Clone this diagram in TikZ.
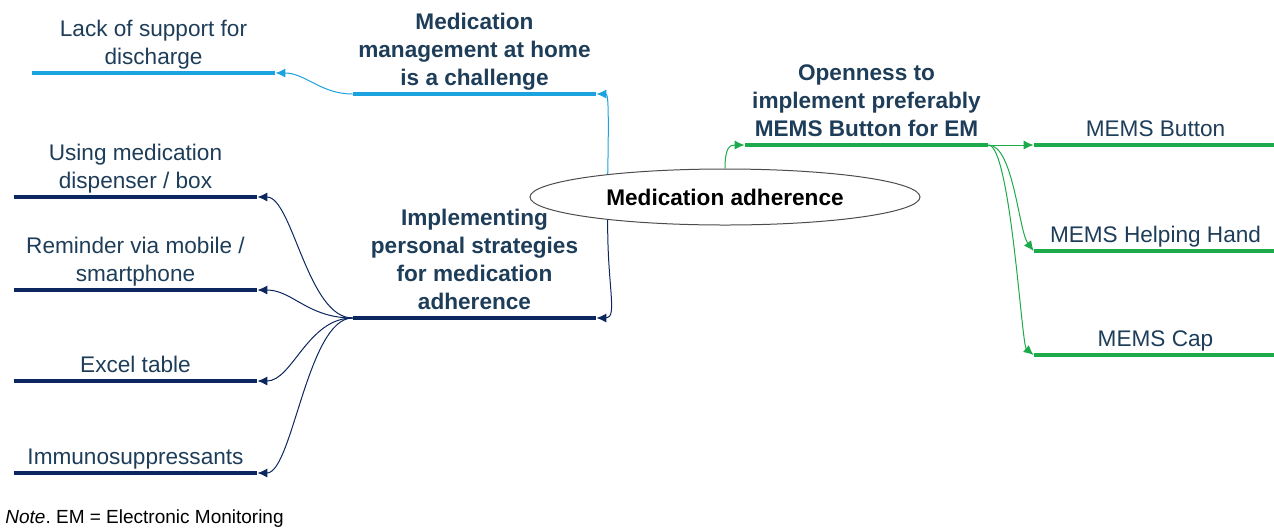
\documentclass[tikz,border=0pt]{standalone}
\usepackage{fontspec}
\setmainfont{Liberation Sans}
\usetikzlibrary{shapes.geometric,arrows.meta,positioning}
\definecolor{skyline}{HTML}{1AA3DF}
\definecolor{navyline}{HTML}{0C2660}
\definecolor{greenline}{HTML}{1DAA4B}
\definecolor{labeltext}{HTML}{1E3D59}
\tikzset{arrow/.style={line width=0.5pt,-{Latex[length=5pt,width=4.5pt]}}}

\begin{document}
\begin{tikzpicture}[x=0.5pt,y=-0.5pt,
  branch/.style={inner xsep=0pt, inner ysep=4pt, text depth=0pt, minimum width=121.5pt, anchor=south, align=center, text=labeltext, font=\fontsize{11.3}{14}\selectfont},
  topic/.style={branch, font=\fontsize{11.3}{14}\selectfont\bfseries},
  under/.style={line width=2.2pt, #1}]

	\useasboundingbox (0,0) rectangle (1274,527);

	% CENTRE
	\node [ellipse, draw=black!70, line width=0.5pt, minimum width=195pt, minimum height=28pt, font=\fontsize{11.3}{14}\selectfont\bfseries] (core) at (725,197) {Medication adherence};

	% TOPICS
	\node [topic] (home) at (474.5,94) {Medication\\management at home\\is a challenge};
	\node [topic] (strategies) at (474.5,318) {Implementing\\personal strategies\\for medication\\adherence};
	\node [topic] (openness) at (866.5,145) {Openness to\\implement preferably\\MEMS Button for EM};

	% SUBTOPICS
	\node [branch] (discharge) at (153.5,73) {Lack of support for\\discharge};
	\node [branch] (dispenser) at (135.5,197) {Using medication\\dispenser / box};
	\node [branch] (reminder) at (135.5,290) {Reminder via mobile /\\smartphone};
	\node [branch] (excel) at (135.5,381) {Excel table};
	\node [branch] (immuno) at (135.5,473) {Immunosuppressants};
	\node [branch] (button) at (1155.5,145) {MEMS Button};
	\node [branch] (helping) at (1155.5,251) {MEMS Helping Hand};
	\node [branch] (cap) at (1155.5,355) {MEMS Cap};

	% UNDERLINES
	\foreach \n in {home,discharge}
		\draw [under=skyline] (\n.south west) -- (\n.south east);
	\foreach \n in {strategies,dispenser,reminder,excel,immuno}
		\draw [under=navyline] (\n.south west) -- (\n.south east);
	\foreach \n in {openness,button,helping,cap}
		\draw [under=greenline] (\n.south west) -- (\n.south east);

	% CONNECTORS
	\draw [arrow, skyline] (core.169) .. controls (609,105) and (608,94) .. (home.south east);
	\draw [arrow, skyline] (home.south west) .. controls +(-32,0) and +(30,0) .. (discharge.south east);

	\draw [arrow, navyline] (core.191) .. controls (607,285) and (618,318) .. (strategies.south east);
	\foreach \n in {dispenser,reminder,excel,immuno}
		\draw [arrow, navyline] (strategies.south west) .. controls +(-45,0) and +(35,0) .. (\n.south east);

	\draw [arrow, greenline] (core.north) .. controls (725,147) and (730,145) .. (openness.south west);
	\draw [arrow, greenline] (openness.south east) -- (button.south west);
	\draw [arrow, greenline] (openness.south east) .. controls +(25,0) and +(-15,-20) .. (helping.south west);
	\draw [arrow, greenline] (openness.south east) .. controls +(22,0) and +(-12,-10) .. (cap.south west);

	% NOTE
	\node [anchor=base west, inner sep=0pt, font=\fontsize{9.5}{11}\selectfont] (note) at (5,523) {\textit{Note}.\ EM = Electronic Monitoring};

\end{tikzpicture}
\end{document}
